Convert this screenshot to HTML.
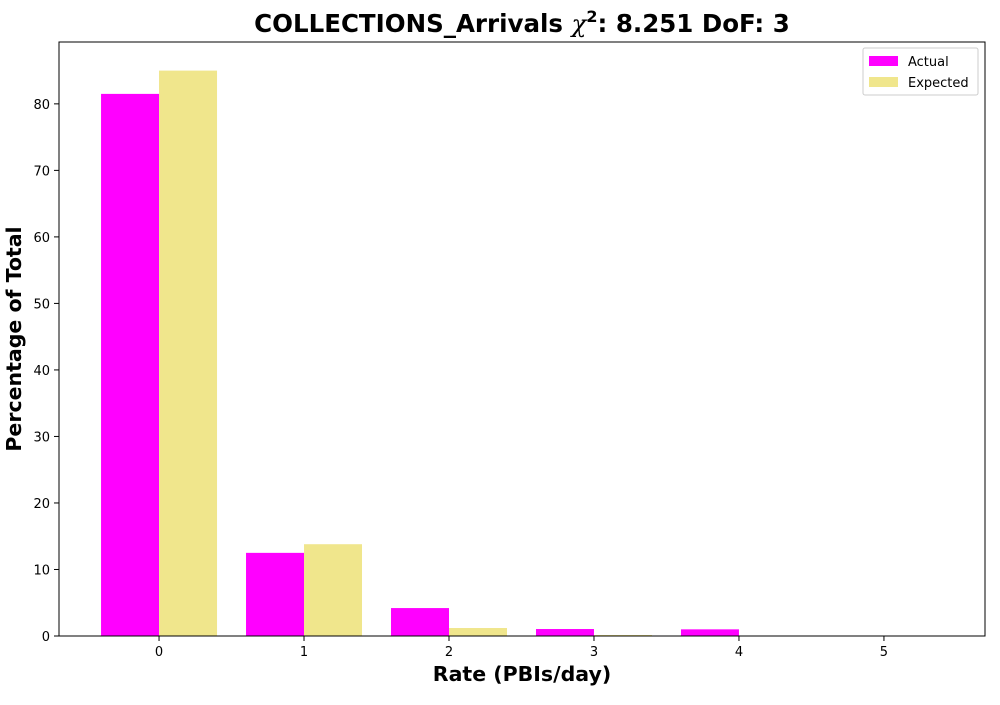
<!DOCTYPE html>
<html><head><meta charset="utf-8"><style>
body{margin:0;background:#fff;}
svg text{font-family:"DejaVu Sans","Liberation Sans",sans-serif;}
</style></head><body>
<svg id="chart" width="1000" height="700" xmlns="http://www.w3.org/2000/svg">
<text x="522" y="32" text-anchor="middle" font-size="24.5" font-weight="bold">COLLECTIONS_Arrivals <tspan font-style="italic" font-weight="normal" font-family="DejaVu Serif,serif">χ</tspan><tspan font-size="16" dy="-10">2</tspan><tspan dy="10">: 8.251 DoF: 3</tspan></text>
<g id="plot"></g>
<text x="522" y="681" text-anchor="middle" font-size="20.5" font-weight="bold">Rate (PBIs/day)</text>
<text transform="translate(21,339) rotate(-90)" text-anchor="middle" font-size="20.5" font-weight="bold">Percentage of Total</text>
<g>
<rect x="863" y="48" width="115" height="47" fill="#fff" stroke="#ccc" rx="2"/>
<rect x="869" y="56" width="29" height="10" fill="#ff00ff"/>
<text x="908" y="66" font-size="13">Actual</text>
<rect x="869" y="77" width="29" height="10" fill="#f0e68c"/>
<text x="908" y="87" font-size="13">Expected</text>
</g>
</svg>
<script>
const categories=[0,1,2,3,4,5];
const actual=[81.5,12.5,4.2,1.05,1.0,0];
const expected=[85.0,13.8,1.2,0.15,0.02,0.0];
const yTicks=[0,10,20,30,40,50,60,70,80];
const L=59,R=985,T=42,B=636;
const xMin=-0.69,xMax=5.697,yMax=89.3;
const sx=v=>L+(v-xMin)/(xMax-xMin)*(R-L);
const sy=v=>B-v/yMax*(B-T);
const NS="http://www.w3.org/2000/svg";
const g=document.getElementById('plot');
function mk(t,a){const e=document.createElementNS(NS,t);for(const k in a)e.setAttribute(k,a[k]);g.appendChild(e);return e;}
const w=0.4;
categories.forEach((c,i)=>{
 const a=mk('rect',{x:sx(c-w),y:sy(actual[i]),width:sx(c)-sx(c-w),height:B-sy(actual[i]),fill:'#ff00ff'});
 
 
 const e=mk('rect',{x:sx(c),y:sy(expected[i]),width:sx(c+w)-sx(c),height:B-sy(expected[i]),fill:'#f0e68c'});
 
 
 const tk=mk('line',{x1:sx(c),x2:sx(c),y1:B,y2:B+5,stroke:'#000'});
 
 
 const tl=mk('text',{x:sx(c),y:B+20,'text-anchor':'middle','font-size':13});
 tl.textContent=c;
 
 
});
yTicks.forEach(v=>{
 const tk=mk('line',{x1:L-5,x2:L,y1:sy(v),y2:sy(v),stroke:'#000'});
 
 
 const tl=mk('text',{x:L-9,y:sy(v)+5,'text-anchor':'end','font-size':13});
 tl.textContent=v;
 
 
});
const fr=mk('rect',{x:L,y:T,width:R-L,height:B-T,fill:'none',stroke:'#000','stroke-width':1});


</script>
</body></html>
